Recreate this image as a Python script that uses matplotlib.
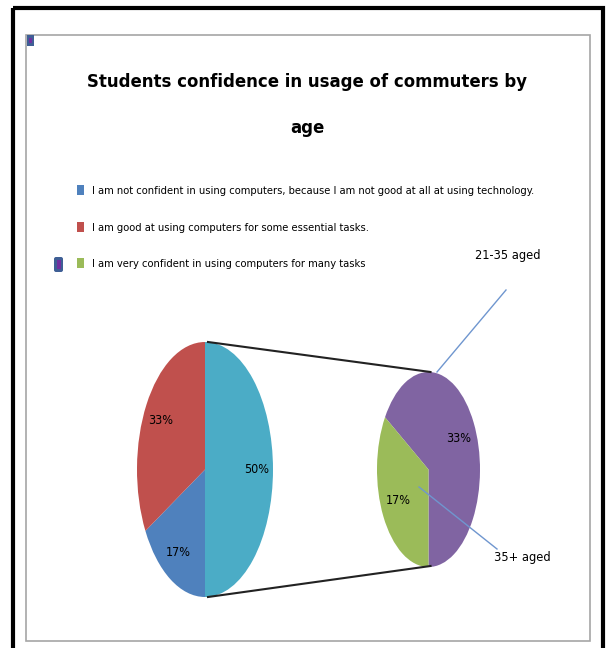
import matplotlib
matplotlib.use('Agg')
import matplotlib.pyplot as plt
from matplotlib.patches import Rectangle, FancyBboxPatch

plt.rcParams['font.family'] = ['DejaVu Sans']
plt.rcParams['font.stretch'] = 'condensed'

# data
title = "Students confidence in usage of commuters by\nage"
main_labels = ['Other', 'I am not confident in using computers, because I am not good at all at using technology.',
               'I am good at using computers for some essential tasks.']
main_pct = [50, 17, 33]
second_labels = ['21-35 aged', '35+ aged']
second_pct = [33, 17]
legend_label3 = 'I am very confident in using computers for many tasks'

cyan = '#4BACC6'
blue = '#4F81BD'
red = '#C0504D'
purple = '#8064A2'
green = '#9BBB59'

W, H = 608, 648
fig = plt.figure(figsize=(W / 100, H / 100), dpi=100)

# background/overlay axes in pixel coordinates
bg = fig.add_axes([0, 0, 1, 1])
bg.set_xlim(0, W)
bg.set_ylim(H, 0)
bg.axis('off')
bg.set_zorder(5)
bg.add_patch(Rectangle((12.5, 7.5), 590, 660, fill=False, ec='black', lw=3))
bg.add_patch(Rectangle((25.5, 34.5), 564, 606, fill=False, ec='#a6a6a6', lw=1.2))
bg.add_patch(Rectangle((27, 35), 7, 11, fc='#3f5f95', ec='none'))
bg.add_patch(Rectangle((29, 38), 3, 5, fc='#7030a0', ec='none'))
bg.add_patch(FancyBboxPatch((54, 257), 9, 15, boxstyle='round,pad=0,rounding_size=2',
                            fc='#3f5f95', ec='none'))
bg.add_patch(Rectangle((56.5, 260), 4, 9, fc='#7030a0', ec='none'))

bg.text(307, 105, title, ha='center', va='center', fontsize=13.2, fontweight='bold',
        linespacing=3.0, color='black')


def pix_axes(x0, y0, x1, y1):
    return fig.add_axes([x0 / W, 1 - y1 / H, (x1 - x0) / W, (y1 - y0) / H])


# left pie
p1 = (137, 342, 273, 597)
ax1 = pix_axes(*p1)
w1, t1, a1 = ax1.pie(main_pct, colors=[cyan, blue, red], startangle=90, counterclock=False,
                     autopct='%.0f%%', pctdistance=0.76,
                     wedgeprops=dict(linewidth=0), textprops=dict(fontsize=9))
ax1.set_aspect('auto')
ax1.set_xlim(-1, 1)
ax1.set_ylim(-1, 1)

# right pie
p2 = (377, 372, 480, 567)
ax2 = pix_axes(*p2)
tot = sum(second_pct)
w2, t2, a2 = ax2.pie(second_pct, colors=[purple, green], startangle=147.6, counterclock=False,
                     autopct=lambda p: '%.0f%%' % (p * tot / 100), pctdistance=0.66,
                     wedgeprops=dict(linewidth=0), textprops=dict(fontsize=9))
ax2.set_aspect('auto')
ax2.set_xlim(-1, 1)
ax2.set_ylim(-1, 1)

# connector lines
cx1 = (p1[0] + p1[2]) / 2 + 3
cx2 = (p2[0] + p2[2]) / 2 + 2
bg.plot([cx1, cx2], [p1[1], p2[1]], color='#222222', lw=1.5)
bg.plot([cx1, cx2], [p1[3], p2[3] - 1], color='#222222', lw=1.5)

# series labels with leader lines
lead = '#6f96cf'
bg.plot([506, 437], [290, 372], color=lead, lw=1)
bg.text(508, 256, second_labels[0], ha='center', va='center', fontsize=9.2)
bg.plot([419, 497], [487, 549], color=lead, lw=1)
bg.text(522, 557, second_labels[1], ha='center', va='center', fontsize=9.2)

# legend
leg = fig.legend([w1[1], w1[2], w2[1]], [main_labels[1], main_labels[2], legend_label3],
                 loc='upper left', bbox_to_anchor=(73 / W, 1 - 181 / H), frameon=False,
                 fontsize=8, handlelength=0.6, handleheight=1.0, handletextpad=0.7,
                 labelspacing=2.3, borderaxespad=0)
leg.set_zorder(6)

fig.savefig('out.png', dpi=100)
